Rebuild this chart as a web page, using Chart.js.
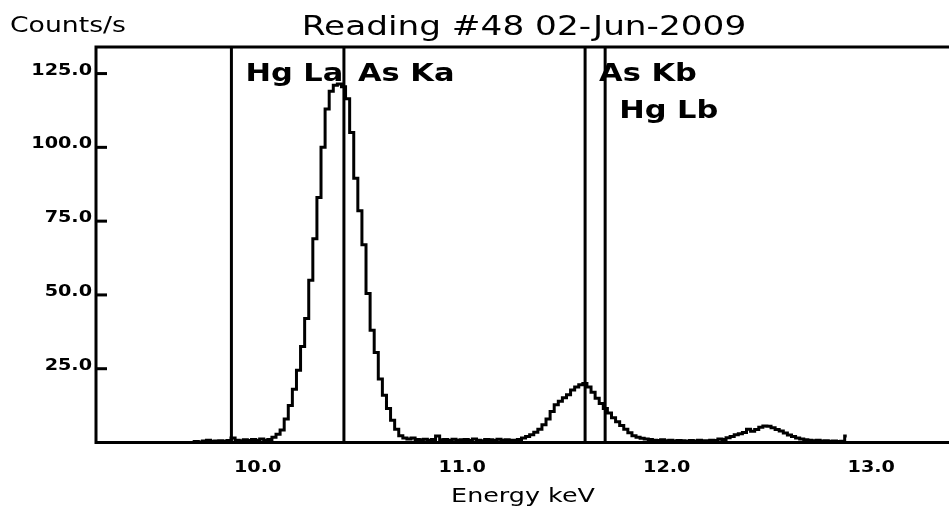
<!DOCTYPE html>
<html>
<head>
<meta charset="utf-8">
<script src="https://cdn.jsdelivr.net/npm/chart.js@4.4.1/dist/chart.umd.min.js"></script>
<style>
  html, body { margin: 0; padding: 0; background: #fff; }
</style>
</head>
<body>
<canvas id="spectrum" width="949" height="506"></canvas>
<script>
// channel calibration (keV) and counts/s
const channelStart = 9.22;
const channelWidth = 0.02;
const counts = [
    0, 0, 0, 0, 0, 0, 0, 0, 0, 0,                           // 9.22 - 9.40
    0, 0, 0, 0, 0, 0, 0, 0, 0, 0,                           // 9.42 - 9.60
    0, 0, 0, 0, 0.3, 0.2, 0.5, 0.8, 0.4, 0.5,               // 9.62 - 9.80
    0.6, 0.4, 0.7, 1.5, 0.8, 0.6, 0.9, 0.7, 1.0, 0.8,       // 9.82 - 10.00
    1.2, 0.8, 1.0, 1.8, 2.8, 4.2, 8.0, 12.5, 18.0, 24.5,    // 10.02 - 10.20
    32.5, 42.0, 55.0, 69.0, 83.0, 100.0, 113.0, 119.0, 121.0, 121.5,
    120.5, 116.5, 105.0, 89.5, 78.5, 67.0, 50.5, 38.0, 30.5, 21.5,
    16.0, 11.5, 7.5, 4.5, 2.3, 1.5, 1.2, 1.5, 1.0, 0.9,     // 10.62 - 10.80
    1.1, 0.8, 1.0, 2.2, 0.9, 1.0, 0.7, 1.1, 0.8, 0.9,
    1.0, 0.7, 1.2, 0.8, 0.6, 1.0, 0.9, 0.7, 1.1, 0.8,       // 11.02 - 11.20
    0.9, 0.8, 0.8, 1.0, 1.5, 2.0, 2.6, 3.5, 4.5, 6.0,
    8.0, 10.5, 12.8, 14.0, 15.2, 16.2, 17.8, 18.8, 19.6, 20.0,
    18.8, 17.0, 15.0, 13.2, 11.5, 10.0, 8.4, 7.0, 5.8, 4.5, // 11.62 - 11.80
    3.3, 2.3, 1.8, 1.4, 1.2, 1.0, 0.8, 0.7, 0.9, 0.6,
    0.8, 0.5, 0.7, 0.6, 0.4, 0.7, 0.5, 0.8, 0.6, 0.6,       // 12.02 - 12.20
    0.8, 0.7, 1.2, 1.0, 1.6, 2.0, 2.6, 3.0, 3.4, 4.5,
    3.8, 4.4, 5.2, 5.6, 5.5, 5.0, 4.4, 3.9, 3.2, 2.5,       // 12.42 - 12.60
    2.0, 1.5, 1.2, 0.9, 0.8, 0.6, 0.8, 0.5, 0.6, 0.4,
    0.5, 0.3, 0.4, 2.2                                      // 12.82 - 12.88
];

// element lines
const lineNames = ['Hg La', 'As Ka', 'As Kb', 'Hg Lb'];
const lineEnergies = [9.872, 10.422, 11.601, 11.699];
const lineRows = [0, 0, 0, 1];

const xTicks = [10.0, 11.0, 12.0, 13.0];
const yTicks = [25.0, 50.0, 75.0, 100.0, 125.0];

const points = counts.map((c, i) => ({ x: channelStart + i * channelWidth, y: c }));

// text in the original is drawn wide, so stretch it a bit
function wideText(ctx, txt, x, y, font, align, sx) {
    ctx.save();
    ctx.font = font;
    ctx.textAlign = align;
    ctx.textBaseline = 'alphabetic';
    ctx.fillStyle = '#000';
    ctx.translate(x, y);
    ctx.scale(sx, 1);
    ctx.fillText(txt, 0, 0);
    ctx.restore();
}

const spectrumFrame = {
    id: 'spectrumFrame',
    afterDatasetsDraw(chart) {
        const { ctx, chartArea: a, scales: { x, y } } = chart;
        ctx.save();
        ctx.strokeStyle = '#000';
        ctx.lineWidth = 3;

        // frame
        ctx.beginPath();
        ctx.moveTo(a.right, a.top);
        ctx.lineTo(a.left, a.top);
        ctx.lineTo(a.left, a.bottom);
        ctx.lineTo(a.right, a.bottom);
        ctx.stroke();

        // y ticks
        yTicks.forEach(v => {
            const py = y.getPixelForValue(v);
            ctx.beginPath();
            ctx.moveTo(a.left, py);
            ctx.lineTo(a.left + 11, py);
            ctx.stroke();
            wideText(ctx, v.toFixed(1), a.left - 4, py + 1, 'bold 16px "DejaVu Sans"', 'right', 1.2);
        });

        // x tick labels
        xTicks.forEach(v => {
            wideText(ctx, v.toFixed(1), x.getPixelForValue(v), 471.5, 'bold 16px "DejaVu Sans"', 'center', 1.2);
        });

        // element marker lines + names
        lineEnergies.forEach((e, i) => {
            const px = x.getPixelForValue(e);
            ctx.beginPath();
            ctx.moveTo(px, a.top);
            ctx.lineTo(px, a.bottom);
            ctx.stroke();
            wideText(ctx, lineNames[i], px + 14, lineRows[i] ? 118 : 81, 'bold 24px "DejaVu Sans"', 'left', 1.27);
        });

        // titles
        wideText(ctx, 'Reading #48 02-Jun-2009', 524, 35, '27px "DejaVu Sans"', 'center', 1.27);
        wideText(ctx, 'Counts/s', 10, 31.5, '21px "DejaVu Sans"', 'left', 1.27);
        wideText(ctx, 'Energy keV', 523, 502, '20px "DejaVu Sans"', 'center', 1.27);

        ctx.restore();
    }
};

new Chart(document.getElementById('spectrum'), {
    type: 'line',
    data: {
        datasets: [{
            data: points,
            borderColor: '#000',
            borderWidth: 3,
            stepped: 'middle',
            pointRadius: 0,
            fill: false
        }]
    },
    options: {
        responsive: false,
        animation: false,
        layout: { padding: { left: 96, top: 47, right: 0, bottom: 63.5 } },
        plugins: { legend: { display: false }, tooltip: { enabled: false } },
        scales: {
            x: { type: 'linear', min: 9.21, max: 13.38, display: false },
            y: { min: 0, max: 134, display: false }
        }
    },
    plugins: [spectrumFrame]
});
</script>
</body>
</html>
